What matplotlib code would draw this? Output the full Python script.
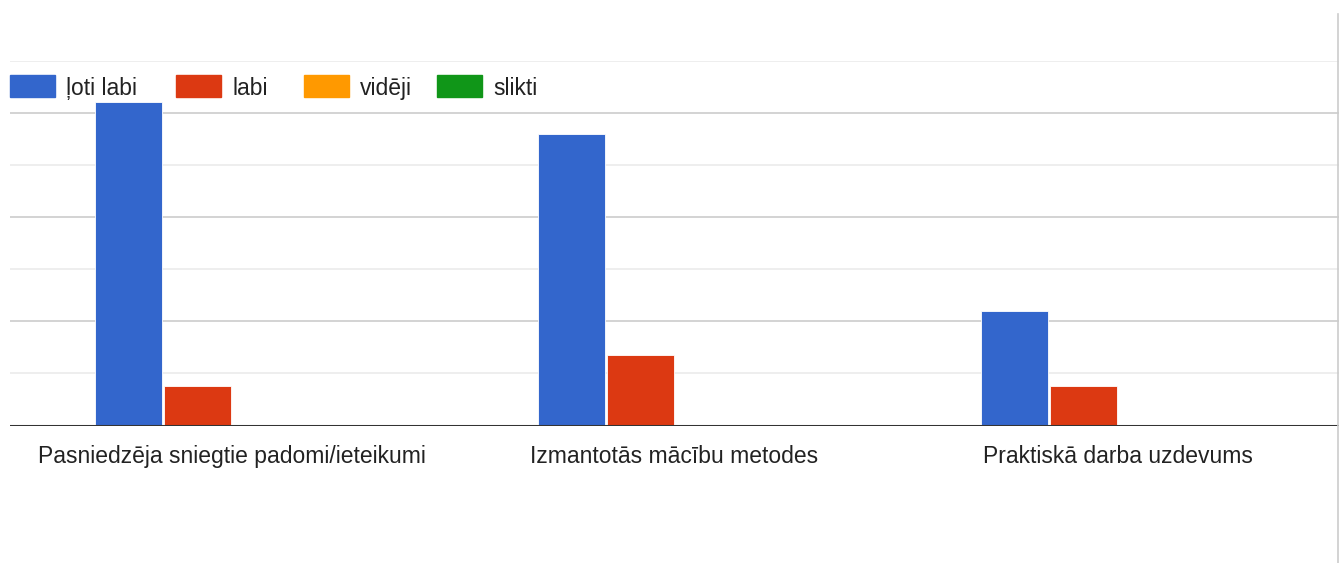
import matplotlib.pyplot as plt
import matplotlib.patches as mpatches
import numpy as np

plt.rcParams['font.family'] = ['Liberation Sans', 'DejaVu Sans']

categories = ["Pasniedzēja sniegtie padomi/ieteikumi",
              "Izmantotās mācību metodes",
              "Praktiskā darba uzdevums"]
series_names = ["ļoti labi", "labi", "vidēji", "slikti"]
loti_labi = [6.2, 5.6, 2.19]
labi = [0.76, 1.36, 0.76]
videji = [0, 0, 0]
slikti = [0, 0, 0]
colors = ["#3366CC", "#DC3912", "#FF9900", "#109618"]

W, H = 1341, 563
fig = plt.figure(figsize=(W / 100, H / 100), dpi=100)
ax = fig.add_axes([10 / W, 1 - 425.5 / H, 1329 / W, (425.5 - 60.7) / H])

x = np.arange(len(categories))
step = 0.155
width = 0.151
all_series = [loti_labi, labi, videji, slikti]
for i, (vals, c) in enumerate(zip(all_series, colors)):
    ax.bar(x + (i - 1.5) * step, vals, width=width, color=c, zorder=3,
           edgecolor="white", linewidth=0.6)

ax.set_xlim(-0.5, len(categories) - 0.5)
ax.set_ylim(0, 7)
for y in range(1, 8):
    ax.axhline(y, color="#cccccc" if y % 2 == 0 else "#ebebeb", lw=1.2, zorder=1)
ax.axhline(0, color="#333333", lw=2.2, zorder=4)

for s in ax.spines.values():
    s.set_visible(False)
ax.set_yticks([])
ax.set_xticks(x)
ax.set_xticklabels(categories, fontsize=16.5, color="#222222")
ax.tick_params(axis="x", length=0, pad=14)

# legend, drawn by hand to match the google forms layout
patch_x = [10, 176, 304, 437]
text_x = [66, 232, 360, 493]
ly = 1 - 86 / H
for px, tx, c, n in zip(patch_x, text_x, colors, series_names):
    fig.add_artist(mpatches.Rectangle((px / W, ly - 11 / H), 45 / W, 22 / H,
                                      color=c, transform=fig.transFigure))
    fig.text(tx / W, ly - 2 / H, n, fontsize=16.5, color="#222222",
             va="center", ha="left")

fig.add_artist(plt.Line2D([1338 / W, 1338 / W], [0, 1 - 14 / H],
                          color="#cccccc", lw=1.2, transform=fig.transFigure))

fig.savefig("out.png", dpi=100, facecolor="white")
